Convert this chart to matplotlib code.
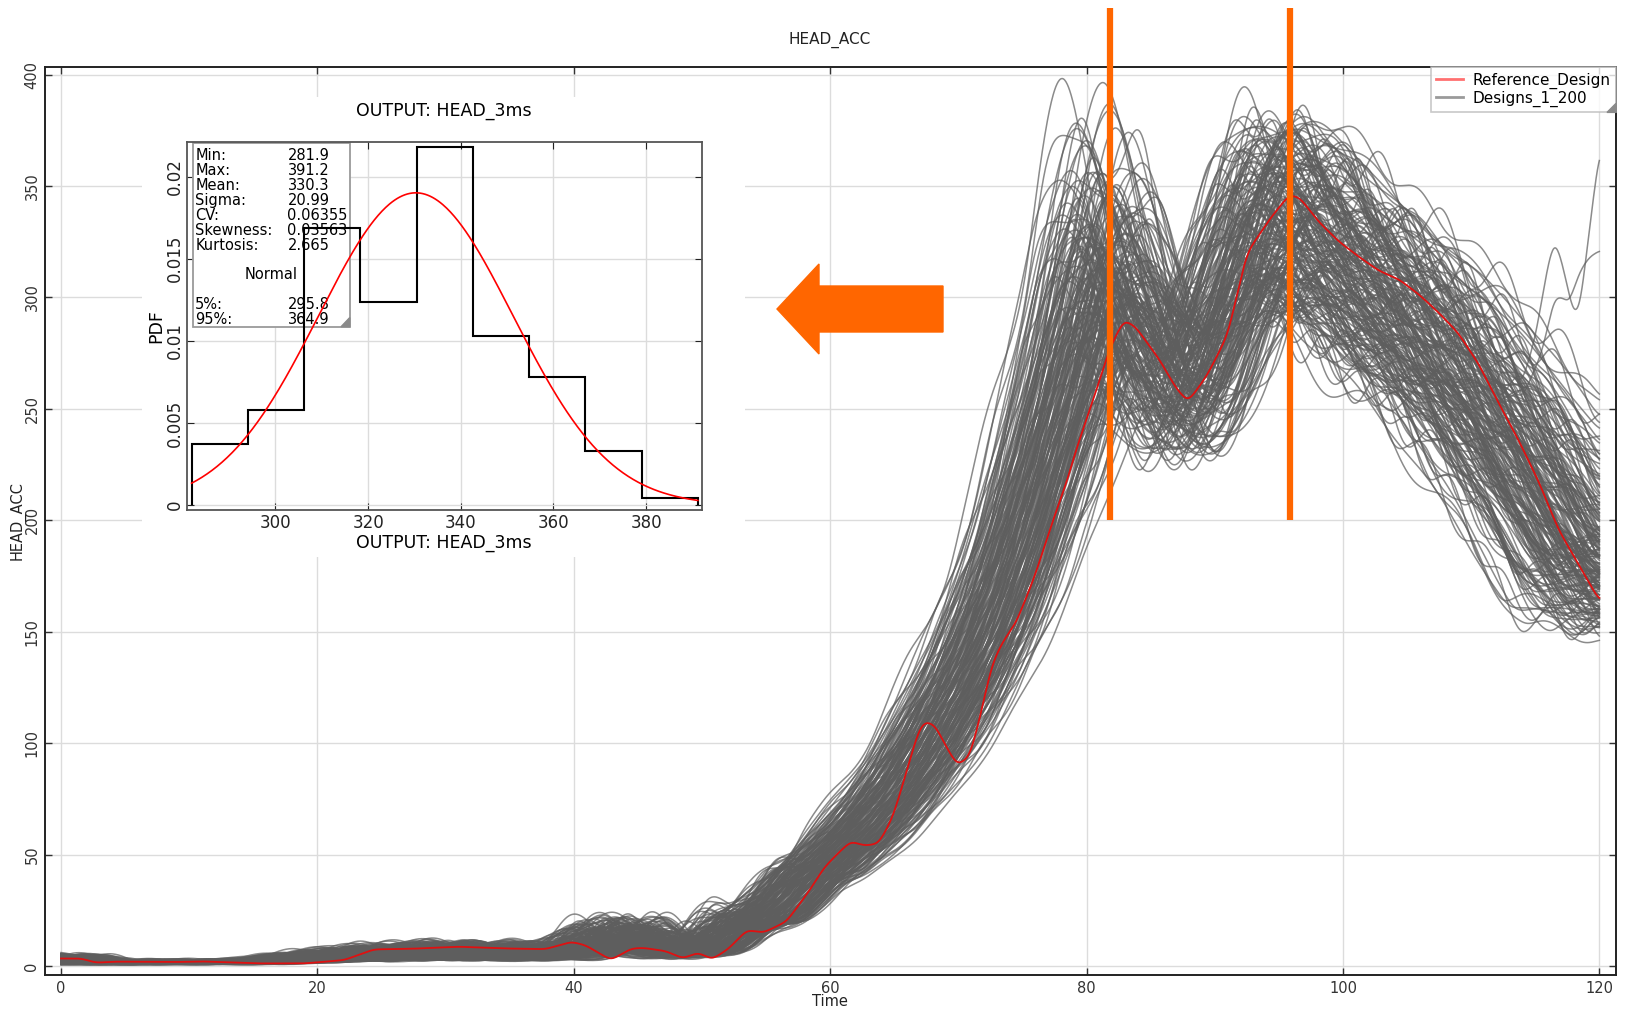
import numpy as np
import matplotlib
matplotlib.use("Agg")
import matplotlib.pyplot as plt
from matplotlib.lines import Line2D
from matplotlib.patches import Rectangle, Polygon, FancyArrow

# ---- reference design: HEAD_ACC vs Time
ref_t = [0, 1.6, 2.7, 4.3, 8.7, 11, 15.4, 19, 22.1, 24.4, 27.5, 31, 34.7, 37.8, 39.8, 40.9,
         42.9, 44.5, 45.4, 47.2, 48.5, 49.7, 50.8, 52.1, 53.5, 54.8, 56.6, 58.4, 59.5, 60.5,
         61.6, 62.7, 63.8, 64.9, 66.1, 66.9, 67.4, 68.2, 68.9, 69.9, 70.9, 71.7, 72.6, 73.4,
         74.5, 75.9, 77.5, 78.5, 79.2, 80.4, 81.8, 82.9, 83.8, 85.7, 86.9, 87.9, 89.4, 91.0,
         92.5, 94.4, 95.8, 96.6, 98.1, 99.7, 101.3, 102.8, 104.4, 106.0, 107.5, 109.0, 110.6,
         112.2, 113.7, 115.3, 116.8, 118.4, 120]
ref_y = [3.4, 3.4, 1.5, 2.0, 1.8, 2.1, 1.2, 1.2, 2.7, 7.5, 7.8, 8.7, 7.9, 7.6, 10.9, 9.4,
         2.7, 7.9, 8.2, 6.7, 3.4, 6.1, 3.0, 7.9, 16.2, 15.0, 20, 34, 44, 50,
         56, 54, 55, 67, 90, 106, 110, 108, 100, 90, 94, 112, 135, 145,
         154, 174, 202, 218, 232, 252, 277, 290, 287, 272, 260, 253, 265, 283,
         320, 336, 346, 345, 334, 325, 318, 312, 308, 301, 293, 284, 270,
         252, 236, 217, 196, 180, 164]

# ---- shapes the 200 designs are built from (early-peak and late-peak variants)
tpl_t = [0, 1, 2, 3, 4, 6, 8, 10, 12, 14, 16, 18, 20, 22, 24, 26, 28, 30, 32, 34, 36, 38,
         39, 40, 41, 42, 43, 44, 45, 46, 47, 48, 49, 50, 51, 52, 53, 54, 55, 56, 57, 58,
         60, 62, 64, 66, 68, 70, 72, 74, 76, 78, 79, 80, 81, 82, 83, 84, 85, 86, 87, 88,
         89, 90, 91, 92, 93, 94, 95, 96, 97, 98, 100, 102, 104, 106, 108, 110, 112, 114,
         116, 118, 120]
tpl_low = [3.2, 3.2, 2.5, 1.2, 1.5, 1.8, 1.6, 1.8, 1.8, 1.6, 2.2, 3.2, 4.0, 4.8, 5.5, 6.0,
           6.3, 6.5, 6.3, 6.2, 6.0, 6.0, 6.5, 7.5, 10, 12, 13, 13.5, 13, 11, 9.5, 8.5, 7,
           7, 10, 15, 19, 20, 22, 27, 33, 40]
tpl_early = [52, 64, 78, 95, 115, 138, 165, 200, 245, 292, 328, 350, 360, 352, 332, 306,
             284, 268, 260, 262, 272, 287, 302, 316, 327, 334, 336, 333, 327, 320, 310,
             300, 290, 279, 267, 253, 238, 222, 205, 188, 170]
tpl_late = [45, 55, 66, 80, 97, 115, 137, 162, 192, 225, 243, 260, 275, 286, 290, 287,
            280, 272, 267, 268, 276, 290, 307, 325, 342, 352, 356, 356, 351, 345, 333,
            322, 311, 300, 288, 273, 255, 237, 217, 197, 177]

# two designs that swing up at the end of the run
tailA_t = [112, 114, 115, 116, 116.5, 117, 118, 118.5, 119, 120]
tailA_y = [268, 262, 282, 315, 326, 318, 292, 295, 320, 366]
tailB_t = [112, 114, 115.5, 116.5, 117.2, 117.6, 118.5, 119.2, 120]
tailB_y = [262, 255, 275, 300, 300, 297, 312, 318, 321]

# ---- HEAD_3ms histogram (200 designs)
h_min, h_max = 281.9, 391.2
h_counts = [9, 14, 41, 30, 53, 25, 19, 8, 1]
h_mean, h_sigma = 330.3, 20.99
stats_lbl = ["Min:", "Max:", "Mean:", "Sigma:", "CV:", "Skewness:", "Kurtosis:"]
stats_val = ["281.9", "391.2", "330.3", "20.99", "0.06355", "0.03563", "2.665"]
pct_lbl = ["5%:", "95%:"]
pct_val = ["295.8", "364.9"]

n_designs = 200
t = np.arange(0, 120.001, 0.05)


def smooth(y, sig):
    n = int(4 * sig / 0.05)
    k = np.exp(-0.5 * (np.arange(-n, n + 1) * 0.05 / sig) ** 2)
    k /= k.sum()
    yp = np.pad(y, n, mode="edge")
    return np.convolve(yp, k, mode="valid")


def spread(lo, hi, mult):
    # evenly spaced values, reordered so the design parameters don't line up
    idx = (np.arange(n_designs) * mult) % n_designs
    return np.linspace(lo, hi, n_designs)[idx]


early = np.array(tpl_low + tpl_early, float)
late = np.array(tpl_low + tpl_late, float)

shift = spread(-3.2, 3.2, 37)
scale = spread(0.86, 1.10, 71)
mix = spread(0.0, 1.0, 113)
stretch = spread(0.85, 1.15, 151)
low_scale = spread(0.45, 1.55, 29)
wig_amp = spread(0.0, 0.05, 173)
wig_low = spread(0.05, 0.35, 59)
wig_per = spread(3.5, 8.0, 91)
wig_ph = spread(0.0, 2 * np.pi, 133)
ramp = np.clip((t - 48) / 10, 0, 1)

W, H = 1625, 1011
fig = plt.figure(figsize=(W / 100, H / 100), dpi=100)
fig.patch.set_facecolor("white")
ax = fig.add_axes([45 / W, 1 - 975 / H, (1616 - 45) / W, (975 - 67) / H])

for i in range(n_designs):
    tt = t - shift[i]
    tt = np.where(tt > 84, 84 + (tt - 84) * stretch[i], tt)
    y = mix[i] * np.interp(tt, tpl_t, early) + (1 - mix[i]) * np.interp(tt, tpl_t, late)
    amp = low_scale[i] * (1 - ramp) + scale[i] * ramp
    wa = wig_low[i] * (1 - ramp) + wig_amp[i] * ramp
    wig = 1 + wa * np.sin(2 * np.pi * t / wig_per[i] + wig_ph[i])
    y = smooth(y * amp * wig, 0.45)
    if i == 5:
        m = t >= tailA_t[0]
        y[m] = np.interp(t[m], tailA_t, tailA_y)
        y = smooth(y, 0.25)
    if i == 11:
        m = t >= tailB_t[0]
        y[m] = np.interp(t[m], tailB_t, tailB_y)
        y = smooth(y, 0.25)
    ax.plot(t, y, color="#5e5e5e", lw=1.1, alpha=0.72, zorder=2)

ref = smooth(np.interp(t, ref_t, ref_y), 0.3)
ax.plot(t, ref, color="#e01010", lw=1.3, zorder=3)

ax.set_xlim(-1.25, 121.3)
ax.set_ylim(-4.0, 403.4)
ax.set_xticks(np.arange(0, 121, 20))
ax.set_yticks(np.arange(0, 401, 50))
ax.grid(True, color="#dcdcdc", lw=1.0)
ax.set_axisbelow(True)
ax.tick_params(direction="in", top=True, right=True, length=5, width=1, labelsize=10.5,
               colors="#333333", pad=4)
ax.tick_params(axis="y", labelrotation=90)
for lbl in ax.get_yticklabels():
    lbl.set_va("center")
for s in ax.spines.values():
    s.set_color("#222222")
    s.set_linewidth(1.4)

fig.text(830 / W, 1 - 40 / H, "HEAD_ACC", ha="center", va="center", fontsize=11, color="#222222")
fig.text(830 / W, 1 - 1002 / H, "Time", ha="center", va="center", fontsize=10.5, color="#222222")
fig.text(18 / W, 1 - 521 / H, "HEAD_ACC", ha="center", va="center", rotation=90,
         fontsize=10.5, color="#222222")

handles = [Line2D([], [], color="#ff7070", lw=2), Line2D([], [], color="#9a9a9a", lw=2)]
leg = ax.legend(handles, ["Reference_Design", "Designs_1_200"], loc="upper right",
                bbox_to_anchor=(1.0, 1.0), fontsize=11, frameon=True, fancybox=False,
                borderaxespad=0, handlelength=1.8, handletextpad=0.6, labelspacing=0.15,
                borderpad=0.35)
leg.get_frame().set_edgecolor("#bbbbbb")
leg.get_frame().set_linewidth(1.2)
leg.set_zorder(5)

# marker lines at the two peaks
for xv in [81.8, 95.9]:
    ax.plot([xv, xv], [200, 430], color="#ff6600", lw=4.5, clip_on=False, zorder=6,
            solid_capstyle="butt")

# white panel under the histogram
fig.patches.append(Rectangle((142 / W, 1 - 557 / H), 603 / W, 460 / H,
                             transform=fig.transFigure, facecolor="white",
                             edgecolor="none", zorder=1))

arr = FancyArrow(943 / W, 1 - 309 / H, -(943 - 777) / W, 0, width=46 / H,
                 head_width=90 / H, head_length=42 / W, length_includes_head=True,
                 transform=fig.transFigure, color="#ff6600", zorder=4)
fig.patches.append(arr)

# ---- histogram inset
ia = fig.add_axes([186.5 / W, 1 - 510 / H, (701.6 - 186.5) / W, (510 - 142) / H], zorder=3)
edges = np.linspace(h_min, h_max, len(h_counts) + 1)
dens = np.array(h_counts) / (n_designs * (edges[1] - edges[0]))
ia.stairs(dens, edges, baseline=0, color="black", lw=1.5, zorder=4)
xs = np.linspace(h_min, h_max, 400)
pdf = np.exp(-0.5 * ((xs - h_mean) / h_sigma) ** 2) / (h_sigma * np.sqrt(2 * np.pi))
ia.plot(xs, pdf, color="#ff0000", lw=1.2, zorder=5)
ia.set_xlim(280.8, 392.0)
ia.set_ylim(-0.0003, 0.0221)
ia.set_xticks([300, 320, 340, 360, 380])
ia.set_yticks([0, 0.005, 0.01, 0.015, 0.02])
ia.set_yticklabels(["0", "0.005", "0.01", "0.015", "0.02"])
ia.grid(True, color="#dcdcdc", lw=1.0)
ia.set_axisbelow(True)
ia.tick_params(direction="in", top=True, right=True, length=5, labelsize=12, pad=3,
               colors="#222222")
ia.tick_params(axis="y", labelrotation=90, pad=2)
for lbl in ia.get_yticklabels():
    lbl.set_va("center")
for s in ia.spines.values():
    s.set_color("#555555")
    s.set_linewidth(1.3)
ia.set_title("OUTPUT: HEAD_3ms", fontsize=12.5, pad=19)
ia.set_xlabel("OUTPUT: HEAD_3ms", fontsize=12.5, labelpad=1)
ia.set_ylabel("PDF", fontsize=12.5, labelpad=0)

# stats box
bx0, bx1, by0, by1 = 0.013, 0.317, 0.498, 0.997
ia.add_patch(Rectangle((bx0, by0), bx1 - bx0, by1 - by0, transform=ia.transAxes,
                       facecolor="white", edgecolor="#9a9a9a", lw=1.3, zorder=1.5))
ia.add_patch(Polygon([(bx1, by0), (bx1, by0 + 0.025), (bx1 - 0.017, by0)],
                     closed=True, transform=ia.transAxes, color="#8a8a8a", zorder=1.6))
ys = 0.962
for a, b in zip(stats_lbl, stats_val):
    ia.text(0.017, ys, a, transform=ia.transAxes, fontsize=10.5, va="center", zorder=3)
    ia.text(0.196, ys, b, transform=ia.transAxes, fontsize=10.5, va="center", zorder=3)
    ys -= 0.0405
ia.text(0.165, 0.640, "Normal", transform=ia.transAxes, fontsize=10.5, va="center",
        ha="center", zorder=3)
for yv, a, b in zip([0.558, 0.519], pct_lbl, pct_val):
    ia.text(0.017, yv, a, transform=ia.transAxes, fontsize=10.5, va="center", zorder=3)
    ia.text(0.196, yv, b, transform=ia.transAxes, fontsize=10.5, va="center", zorder=3)

# triangle mark in the legend's lower right corner
fig.canvas.draw()
lb = leg.get_frame().get_window_extent().transformed(fig.transFigure.inverted())
dx, dy = 9 / W, 9 / H
fig.patches.append(Polygon([(lb.x1, lb.y0), (lb.x1, lb.y0 + dy), (lb.x1 - dx, lb.y0)],
                           closed=True, transform=fig.transFigure, color="#8a8a8a",
                           zorder=6))

fig.savefig("out.png", dpi=100, facecolor="white")
